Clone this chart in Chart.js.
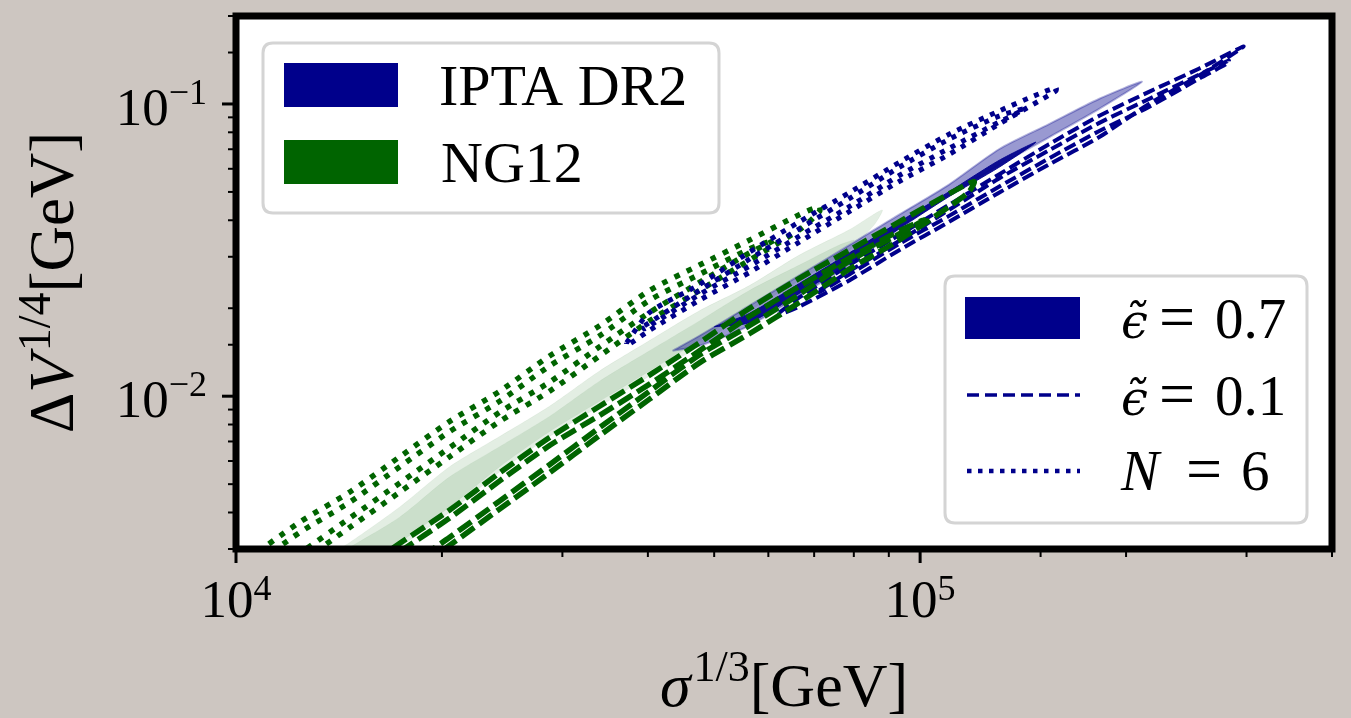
<!DOCTYPE html>
<html><head><meta charset="utf-8">
<script src="https://cdn.jsdelivr.net/npm/chart.js@4"></script>
<style>html,body{margin:0;padding:0;background:#cdc6c1;}canvas{display:block;}</style>
</head><body>
<canvas id="c" width="1351" height="718"></canvas>
<script>
// ---------------- data (sigma^{1/3} [GeV], DeltaV^{1/4} [GeV]) ----------------
// NG12, epsilon=0.7 filled contours (95% outer, 68% inner)
const X_NG12_FILL_OUT = [13490,14670,17360,20530,24290,28730,34000,40220,47580,56290,66590,78780,88020,85680,78780,66590,56290,47580,40220,34000,28730,24290,20530,17360,15960,14670,13490,13490];
const Y_NG12_FILL_OUT = [0.00281,0.00316,0.00418,0.00574,0.00728,0.00924,0.0122,0.0155,0.0196,0.0239,0.0304,0.0371,0.0434,0.0386,0.0316,0.0249,0.0196,0.01487,0.01172,0.00924,0.00728,0.00551,0.00401,0.00304,0.00259,0.0023,0.00204,0.00281];
const X_NG12_FILL_IN = [14670,17360,20530,24290,28730,34000,40220,47580,56290,66590,76180,80120,76180,66590,56290,47580,40220,34000,28730,24290,20530,17360,15960,14670,14670];
const Y_NG12_FILL_IN = [0.00304,0.00386,0.0053,0.00672,0.00853,0.01126,0.0143,0.0181,0.0230,0.0281,0.0329,0.0342,0.0316,0.0259,0.0204,0.0155,0.0122,0.00961,0.00757,0.00574,0.00418,0.00316,0.0027,0.00239,0.00304];
// IPTA DR2, epsilon=0.7 filled contours
const X_IPTA_FILL_OUT = [43460,47580,56290,66590,78780,93190,110240,130400,154300,182500,210980,182500,154300,130400,110240,93190,78780,66590,56290,47580,43460];
const Y_IPTA_FILL_OUT = [0.0143,0.0161,0.0204,0.0259,0.0329,0.0418,0.0530,0.0700,0.0853,0.1040,0.1191,0.0961,0.0769,0.0616,0.0486,0.0374,0.0281,0.0221,0.01743,0.01487,0.0143];
const X_IPTA_FILL_IN = [50050,56290,66590,78780,93190,110240,130400,147690,130400,110240,93190,78780,66590,56290,50050];
const Y_IPTA_FILL_IN = [0.0173,0.0192,0.0243,0.0309,0.0395,0.0501,0.0641,0.0740,0.0607,0.0482,0.0374,0.02852,0.02247,0.01785,0.0173];
// IPTA DR2, epsilon=0.1 (dashed)
const X_IPTA_DASH_OUT = [62270,66590,78780,93190,110240,130400,154300,182500,216000,255500,297160,255500,216000,182500,154300,130400,110240,93190,78780,66590,62270,62270];
const Y_IPTA_DASH_OUT = [0.01933,0.02177,0.0281,0.0356,0.0452,0.0574,0.0728,0.0909,0.1100,0.1320,0.1573,0.1249,0.1,0.0769,0.0621,0.0497,0.0395,0.0316,0.0249,0.02027,0.01903,0.01933];
const X_IPTA_DASH_IN = [71220,78780,93190,110240,130400,154300,182500,216000,255500,282620,282620,255500,216000,182500,154300,130400,110240,93190,78780,71220,71220];
const Y_IPTA_DASH_IN = [0.0230,0.02677,0.0340,0.0434,0.0556,0.0694,0.0860,0.1040,0.1259,0.1407,0.1385,0.1220,0.0977,0.0807,0.0651,0.0521,0.0414,0.0332,0.0261,0.0227,0.0230];
// IPTA DR2, N=6 (dotted)
const X_IPTA_DOT_OUT = [37230,40220,47580,56290,66590,78780,93190,110240,130400,149200,157970,157970,149200,130400,110240,93190,78780,66590,56290,47580,40220,37230,37230];
const Y_IPTA_DOT_OUT = [0.01524,0.01933,0.0241,0.0311,0.0395,0.0497,0.0631,0.0788,0.0946,0.1083,0.1136,0.1109,0.1024,0.0853,0.0672,0.0543,0.0428,0.0337,0.0265,0.0213,0.0168,0.01487,0.01524];
const X_IPTA_DOT_IN = [39550,47580,56290,66590,78780,93190,110240,130400,141860,130400,110240,93190,78780,66590,56290,47580,39550,39550];
const Y_IPTA_DOT_IN = [0.01743,0.0230,0.02944,0.0374,0.0474,0.0607,0.0757,0.0909,0.0961,0.0867,0.0705,0.0569,0.0445,0.0353,0.02785,0.02229,0.01702,0.01743];
// NG12, N=6 (dotted)
const X_NG12_DOT_OUT = [10000,12400,14670,17360,20530,24290,28730,34000,40220,47580,56290,66590,71220,71220,66590,56290,47580,40220,34000,28730,24290,20530,17360,14670,12400,10480,10000];
const Y_NG12_DOT_OUT = [0.00259,0.00371,0.0047,0.00621,0.0082,0.0104,0.01373,0.01743,0.0230,0.0281,0.0342,0.0418,0.0445,0.0428,0.0371,0.0292,0.0230,0.0181,0.01373,0.0104,0.0082,0.00621,0.0047,0.00356,0.0027,0.002126,0.00259];
const X_NG12_DOT_IN = [10480,12400,14670,17360,20530,24290,28730,34000,40220,47580,56290,61230,56290,47580,40220,34000,28730,24290,20530,17360,14670,12400,10840,10480];
const Y_NG12_DOT_IN = [0.00259,0.00342,0.00434,0.00574,0.00757,0.00961,0.01269,0.0161,0.0213,0.0261,0.0319,0.0342,0.0309,0.0245,0.01933,0.01476,0.01117,0.00881,0.00667,0.00505,0.00383,0.0029,0.0023,0.00259];
// NG12, epsilon=0.1 (dashed)
const X_NG12_DASH_OUT = [15960,17360,20530,24290,28730,34000,40220,47580,56290,66590,78780,93190,110240,119900,117900,110240,93190,78780,66590,56290,47580,40220,34000,28730,24290,20530,18880,15960];
const Y_NG12_DASH_OUT = [0.00274,0.00314,0.00408,0.00547,0.00722,0.00924,0.01181,0.01524,0.01995,0.0253,0.0316,0.0395,0.0493,0.0543,0.0501,0.0445,0.0342,0.0272,0.02093,0.01636,0.013,0.00977,0.00734,0.00547,0.00411,0.00309,0.0027,0.00274];
const X_NG12_DASH_IN = [17360,20530,24290,28730,34000,40220,47580,56290,66590,78780,93190,101360,93190,78780,66590,56290,47580,40220,34000,28730,24290,20530,18880,17360,17360];
const Y_NG12_DASH_IN = [0.00294,0.00383,0.00513,0.00678,0.0086,0.011,0.0143,0.01873,0.02376,0.02969,0.0368,0.0401,0.0359,0.029,0.02229,0.01743,0.01384,0.0104,0.00781,0.00583,0.00438,0.00329,0.00287,0.00249,0.00294];

// axis ranges and tick labels
const X_RANGE = [1e4, 4e5];
const Y_RANGE = [3e-3, 0.2];
const X_TICK_LABELS = [[1e4, '10', '4'], [1e5, '10', '5']];
const Y_TICK_LABELS = [[1e-1, '10', '\u22121'], [1e-2, '10', '\u22122']];
const LEGEND1 = ['IPTA DR2', 'NG12'];
const LEGEND2 = ['0.7', '0.1', '6'];

// ---------------- styling ----------------
const SERIF = "'Liberation Serif','DejaVu Serif','Times New Roman',serif";
const NAVY = '#00008b', GREEN = '#006400', BG = '#cdc6c1';

function pts(xs, ys) { return xs.map((x, i) => ({ x: x, y: ys[i] })); }
function fillSet(label, xs, ys, bg, bc, bw, order) {
  return { label, data: pts(xs, ys), fill: 'shape', backgroundColor: bg, borderColor: bc, borderWidth: bw,
    pointRadius: 0, tension: 0.25, order };
}
function lineSet(label, xs, ys, color, width, dash, order) {
  return { label, data: pts(xs, ys), fill: false, borderColor: color, borderWidth: width, borderDash: dash,
    pointRadius: 0, tension: 0.25, order };
}

const datasets = [
  fillSet('NG12 0.7 outer', X_NG12_FILL_OUT, Y_NG12_FILL_OUT, 'rgba(0,100,0,0.11)', 'rgba(0,100,0,0.05)', 1, 20),
  fillSet('NG12 0.7 inner', X_NG12_FILL_IN, Y_NG12_FILL_IN, 'rgba(0,100,0,0.10)', 'rgba(0,100,0,0.04)', 1, 19),
  fillSet('IPTA 0.7 outer', X_IPTA_FILL_OUT, Y_IPTA_FILL_OUT, 'rgba(0,0,139,0.40)', 'rgba(0,0,139,0.30)', 2, 18),
  fillSet('IPTA 0.7 inner', X_IPTA_FILL_IN, Y_IPTA_FILL_IN, 'rgba(0,0,139,0.92)', 'rgba(0,0,139,0.9)', 1, 17),
  lineSet('NG12 N6 outer', X_NG12_DOT_OUT, Y_NG12_DOT_OUT, GREEN, 5.5, [5.5, 8], 16),
  lineSet('NG12 N6 inner', X_NG12_DOT_IN, Y_NG12_DOT_IN, GREEN, 5.5, [5.5, 8], 15),
  lineSet('IPTA N6 outer', X_IPTA_DOT_OUT, Y_IPTA_DOT_OUT, NAVY, 5, [5, 7], 14),
  lineSet('IPTA N6 inner', X_IPTA_DOT_IN, Y_IPTA_DOT_IN, NAVY, 5, [5, 7], 13),
  lineSet('IPTA 0.1 outer', X_IPTA_DASH_OUT, Y_IPTA_DASH_OUT, NAVY, 4, [12, 5], 12),
  lineSet('IPTA 0.1 inner', X_IPTA_DASH_IN, Y_IPTA_DASH_IN, NAVY, 4, [12, 5], 11),
  lineSet('NG12 0.1 outer', X_NG12_DASH_OUT, Y_NG12_DASH_OUT, GREEN, 5.5, [16, 6], 10),
  lineSet('NG12 0.1 inner', X_NG12_DASH_IN, Y_NG12_DASH_IN, GREEN, 5.5, [16, 6], 9)
];

function setFont(ctx, p) { ctx.font = (p.italic ? 'italic ' : '') + p.size + 'px ' + (p.family || SERIF); }
function drawParts(ctx, parts, x, y, align) {
  let total = 0; const ws = [];
  for (const p of parts) { setFont(ctx, p); const w = ctx.measureText(p.t).width; ws.push(w); total += w + (p.gap || 0); }
  let cx = align === 'center' ? x - total / 2 : (align === 'right' ? x - total : x);
  ctx.textAlign = 'left'; ctx.textBaseline = 'alphabetic';
  parts.forEach((p, i) => { setFont(ctx, p); ctx.fillText(p.t, cx, y + (p.dy || 0)); cx += ws[i] + (p.gap || 0); });
}
function rrect(ctx, x, y, w, h, r) {
  ctx.beginPath();
  ctx.moveTo(x + r, y); ctx.lineTo(x + w - r, y); ctx.quadraticCurveTo(x + w, y, x + w, y + r);
  ctx.lineTo(x + w, y + h - r); ctx.quadraticCurveTo(x + w, y + h, x + w - r, y + h);
  ctx.lineTo(x + r, y + h); ctx.quadraticCurveTo(x, y + h, x, y + h - r);
  ctx.lineTo(x, y + r); ctx.quadraticCurveTo(x, y, x + r, y); ctx.closePath();
}
function isMajor(v) { const l = Math.log10(v); return Math.abs(l - Math.round(l)) < 1e-6; }

const decor = {
  id: 'decor',
  beforeDraw(chart) {
    const { ctx, chartArea: a } = chart;
    ctx.save();
    ctx.fillStyle = BG; ctx.fillRect(0, 0, chart.width, chart.height);
    ctx.fillStyle = '#ffffff'; ctx.fillRect(a.left, a.top, a.right - a.left, a.bottom - a.top);
    ctx.restore();
  },
  afterDraw(chart) {
    const { ctx, chartArea: a } = chart;
    const sx = chart.scales.x, sy = chart.scales.y;
    ctx.save();
    // legends
    ctx.fillStyle = 'rgba(255,255,255,0.8)'; ctx.strokeStyle = '#d4d4d4'; ctx.lineWidth = 3;
    rrect(ctx, 263, 43, 456, 170, 10); ctx.fill(); ctx.stroke();
    ctx.fillStyle = NAVY; ctx.fillRect(284, 63, 114, 44);
    ctx.fillStyle = GREEN; ctx.fillRect(284, 140, 114, 44);
    ctx.fillStyle = '#000';
    drawParts(ctx, [{ t: LEGEND1[0], size: 58 }], 439, 105, 'left');
    drawParts(ctx, [{ t: LEGEND1[1], size: 58 }], 441, 182, 'left');

    ctx.fillStyle = 'rgba(255,255,255,0.8)'; ctx.strokeStyle = '#d4d4d4'; ctx.lineWidth = 3;
    rrect(ctx, 945, 276, 362, 247, 10); ctx.fill(); ctx.stroke();
    ctx.fillStyle = NAVY; ctx.fillRect(965, 297, 115, 42);
    ctx.strokeStyle = NAVY;
    ctx.setLineDash([12, 6]); ctx.lineWidth = 3.5;
    ctx.beginPath(); ctx.moveTo(967, 395); ctx.lineTo(1080, 395); ctx.stroke();
    ctx.setLineDash([4.5, 6.5]); ctx.lineWidth = 4.5;
    ctx.beginPath(); ctx.moveTo(967, 471); ctx.lineTo(1080, 471); ctx.stroke();
    ctx.setLineDash([]);
    ctx.fillStyle = '#000';
    const eps = { t: '\u03F5\u0303', size: 48, italic: true, family: "'DejaVu Serif',serif" };
    drawParts(ctx, [eps], 1121, 338, 'left');
    drawParts(ctx, [{ t: '=', size: 64 }], 1159, 338, 'left');
    drawParts(ctx, [{ t: LEGEND2[0], size: 57 }], 1215, 338, 'left');
    drawParts(ctx, [eps], 1121, 415, 'left');
    drawParts(ctx, [{ t: '=', size: 64 }], 1159, 415, 'left');
    drawParts(ctx, [{ t: LEGEND2[1], size: 57 }], 1215, 415, 'left');
    drawParts(ctx, [{ t: 'N', size: 57, italic: true }], 1121, 490, 'left');
    drawParts(ctx, [{ t: '=', size: 64 }], 1186, 490, 'left');
    drawParts(ctx, [{ t: LEGEND2[2], size: 57 }], 1241, 490, 'left');

    // frame
    ctx.strokeStyle = '#000'; ctx.lineWidth = 7;
    ctx.strokeRect(a.left, a.top, a.right - a.left, a.bottom - a.top);
    // ticks
    ctx.lineCap = 'butt';
    for (const t of sx.ticks) {
      const px = sx.getPixelForValue(t.value), maj = isMajor(t.value);
      ctx.lineWidth = maj ? 3 : 2;
      ctx.beginPath(); ctx.moveTo(px, a.bottom); ctx.lineTo(px, a.bottom + (maj ? 14 : 8)); ctx.stroke();
    }
    for (const t of sy.ticks) {
      const py = sy.getPixelForValue(t.value), maj = isMajor(t.value);
      ctx.lineWidth = maj ? 3 : 2;
      ctx.beginPath(); ctx.moveTo(a.left, py); ctx.lineTo(a.left - (maj ? 14 : 8), py); ctx.stroke();
    }
    // tick labels
    ctx.fillStyle = '#000';
    for (const [v, b, e] of X_TICK_LABELS) {
      drawParts(ctx, [{ t: b, size: 53 }, { t: e, size: 36, dy: -17 }], sx.getPixelForValue(v), a.bottom + 68, 'center');
    }
    for (const [v, b, e] of Y_TICK_LABELS) {
      const py = sy.getPixelForValue(v);
      drawParts(ctx, [{ t: b, size: 53 }, { t: e, size: 36, dy: -21 }], 207, py + 21, 'right');
    }
    // axis titles
    drawParts(ctx, [{ t: '\u03C3', size: 62, italic: true, gap: 3 }, { t: '1/3', size: 44, dy: -25 }, { t: '[GeV]', size: 62 }],
      (a.left + a.right) / 2, 706, 'center');
    ctx.save();
    ctx.translate(73, (a.top + a.bottom) / 2);
    ctx.rotate(-Math.PI / 2);
    drawParts(ctx, [{ t: '\u0394', size: 63 }, { t: 'V', size: 63, italic: true, gap: 3 }, { t: '1/4', size: 46, dy: -23 }, { t: '[GeV]', size: 63 }],
      0, 0, 'center');
    ctx.restore();
    ctx.restore();
  }
};

new Chart(document.getElementById('c'), {
  type: 'line',
  data: { datasets },
  options: {
    responsive: false, animation: false, devicePixelRatio: 1,
    layout: { padding: { top: 16, right: 19, left: 0, bottom: 0 } },
    plugins: { legend: { display: false }, tooltip: { enabled: false } },
    elements: { line: { borderCapStyle: 'butt', borderJoinStyle: 'miter' } },
    scales: {
      x: { type: 'logarithmic', min: X_RANGE[0], max: X_RANGE[1], grid: { display: false }, border: { display: false },
        ticks: { display: false }, afterFit(s) { s.height = 169; } },
      y: { type: 'logarithmic', min: Y_RANGE[0], max: Y_RANGE[1], grid: { display: false }, border: { display: false },
        ticks: { display: false }, afterFit(s) { s.width = 236; } }
    }
  },
  plugins: [decor]
});
</script>
</body></html>
